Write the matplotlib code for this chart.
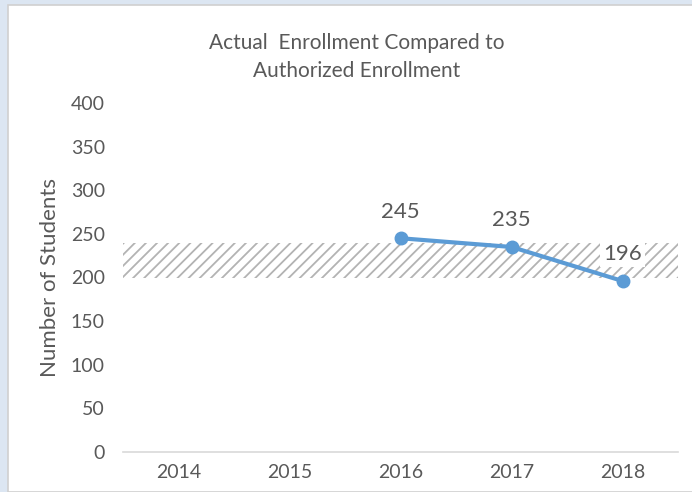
import matplotlib.pyplot as plt
from matplotlib.patches import Rectangle

years = ["2014", "2015", "2016", "2017", "2018"]
actual_years = ["2016", "2017", "2018"]
actual = [245, 235, 196]
authorized_low = 200
authorized_high = 240
y_ticks = [0, 50, 100, 150, 200, 250, 300, 350, 400]

plt.rcParams["font.family"] = ["Lato", "DejaVu Sans"]
plt.rcParams["hatch.color"] = "#b3b3b3"
plt.rcParams["hatch.linewidth"] = 1.3
text_col = "#595959"

fig = plt.figure(figsize=(6.92, 4.92), dpi=100)
fig.patch.set_facecolor("#dce6f2")

# white chart area with a thin gray edge
fig.patches.append(Rectangle((8 / 692, 0), 1, 1 - 5 / 492, transform=fig.transFigure,
                             facecolor="white", edgecolor="#d0d0d0", linewidth=1.2,
                             zorder=-5))

ax = fig.add_axes([123 / 692, 40 / 492, 555 / 692, 349 / 492])
ax.set_facecolor("none")

x_pos = list(range(len(years)))
ax.set_xlim(-0.5, len(years) - 0.5)
ax.set_ylim(0, 400)

# authorized enrollment band
ax.fill_between([-0.5, len(years) - 0.5], authorized_low, authorized_high,
                facecolor="white", hatch="///", edgecolor="#b3b3b3", linewidth=0,
                zorder=1)

xs = [years.index(y) for y in actual_years]
ax.plot(xs, actual, color="#5b9bd5", linewidth=3, marker="o", markersize=9,
        solid_capstyle="round", zorder=3)

for x, v in zip(xs, actual):
    box = None
    if v < authorized_high:
        box = dict(facecolor="white", edgecolor="none", pad=2)
    ax.annotate(str(v), (x, v), xytext=(0, 12), textcoords="offset points",
                ha="center", va="bottom", fontsize=16, color=text_col, bbox=box,
                zorder=4)

ax.set_xticks(x_pos)
ax.set_xticklabels(years)
ax.set_yticks(y_ticks)
ax.tick_params(axis="both", length=0, labelsize=14, labelcolor=text_col)
ax.tick_params(axis="x", pad=9)
ax.tick_params(axis="y", pad=13)

for side in ["top", "right", "left"]:
    ax.spines[side].set_visible(False)
ax.spines["bottom"].set_color("#d9d9d9")
ax.spines["bottom"].set_linewidth(1.2)

ax.set_ylabel("Number of Students", fontsize=16, color=text_col, labelpad=8)

fig.text(357 / 692, 1 - 57 / 492, "Actual  Enrollment Compared to\nAuthorized Enrollment",
         ha="center", va="center", fontsize=15, color=text_col, linespacing=1.45)

fig.savefig("out.png", dpi=100, facecolor=fig.get_facecolor())
